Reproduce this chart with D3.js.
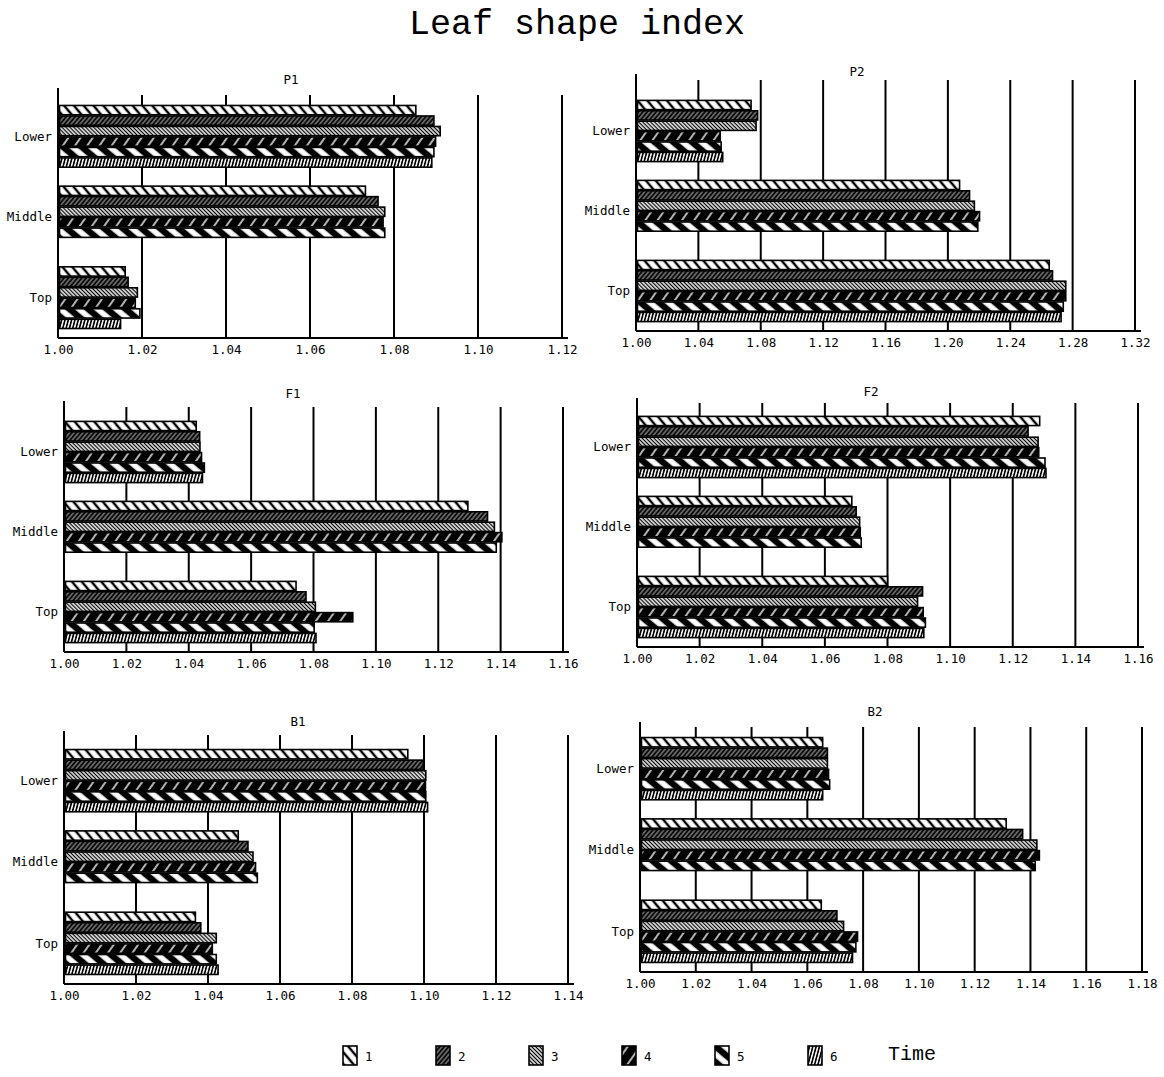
<!DOCTYPE html>
<html>
<head>
<meta charset="utf-8">
<script src="https://cdn.jsdelivr.net/npm/d3@7"></script>
<style>
  html, body { margin: 0; padding: 0; background: #fff; }
  svg { display: block; }
</style>
</head>
<body>
<svg id="chart" width="1164" height="1077"></svg>
<script>
// ---- data -------------------------------------------------------------
const times = ["1", "2", "3", "4", "5", "6"];
const positions = ["Lower", "Middle", "Top"];
const panelNames = ["P1", "P2", "F1", "F2", "B1", "B2"];

// leaf shape index per position (rows) and time (columns); null = not measured
const p1Values = [
  [1.0852, 1.0895, 1.0910, 1.0899, 1.0895, 1.0890],
  [1.0732, 1.0762, 1.0778, 1.0774, 1.0778, null],
  [1.0160, 1.0167, 1.0189, 1.0184, 1.0195, 1.0149]
];
const p2Values = [
  [1.0738, 1.0780, 1.0770, 1.0540, 1.0546, 1.0556],
  [1.2075, 1.2139, 1.2170, 1.2203, 1.2192, null],
  [1.2650, 1.2671, 1.2756, 1.2756, 1.2740, 1.2726]
];
const f1Values = [
  [1.0424, 1.0435, 1.0436, 1.0441, 1.0450, 1.0444],
  [1.1295, 1.1358, 1.1380, 1.1404, 1.1386, null],
  [1.0744, 1.0776, 1.0806, 1.0926, 1.0802, 1.0808]
];
const f2Values = [
  [1.1286, 1.1249, 1.1281, 1.1283, 1.1303, 1.1306],
  [1.0686, 1.0700, 1.0711, 1.0713, 1.0716, null],
  [1.0800, 1.0912, 1.0896, 1.0914, 1.0921, 1.0916]
];
const b1Values = [
  [1.0955, 1.0998, 1.1005, 1.1004, 1.1005, 1.1010],
  [1.0484, 1.0511, 1.0525, 1.0532, 1.0537, null],
  [1.0365, 1.0380, 1.0423, 1.0412, 1.0423, 1.0428]
];
const b2Values = [
  [1.0655, 1.0672, 1.0672, 1.0676, 1.0680, 1.0655],
  [1.1313, 1.1372, 1.1423, 1.1432, 1.1417, null],
  [1.0650, 1.0706, 1.0730, 1.0780, 1.0774, 1.0762]
];

// x-axis tick labels per panel
const p1Ticks = ["1.00", "1.02", "1.04", "1.06", "1.08", "1.10", "1.12"];
const p2Ticks = ["1.00", "1.04", "1.08", "1.12", "1.16", "1.20", "1.24", "1.28", "1.32"];
const f1Ticks = ["1.00", "1.02", "1.04", "1.06", "1.08", "1.10", "1.12", "1.14", "1.16"];
const f2Ticks = ["1.00", "1.02", "1.04", "1.06", "1.08", "1.10", "1.12", "1.14", "1.16"];
const b1Ticks = ["1.00", "1.02", "1.04", "1.06", "1.08", "1.10", "1.12", "1.14"];
const b2Ticks = ["1.00", "1.02", "1.04", "1.06", "1.08", "1.10", "1.12", "1.14", "1.16", "1.18"];

const chartTitle = "Leaf shape index";
const legendTitle = "Time";

// ---- layout -----------------------------------------------------------
const panelData = {
  P1: { values: p1Values, ticks: p1Ticks },
  P2: { values: p2Values, ticks: p2Ticks },
  F1: { values: f1Values, ticks: f1Ticks },
  F2: { values: f2Values, ticks: f2Ticks },
  B1: { values: b1Values, ticks: b1Ticks },
  B2: { values: b2Values, ticks: b2Ticks }
};
const frames = {
  P1: { x0: 58,  x1: 562,  axisTop: 88,  gridTop: 95,  bandTop: 96,  axisY: 338, tx: 291, ty: 84 },
  P2: { x0: 636, x1: 1135, axisTop: 74,  gridTop: 80,  bandTop: 91,  axisY: 331, tx: 857, ty: 76 },
  F1: { x0: 64,  x1: 563,  axisTop: 401, gridTop: 407, bandTop: 412, axisY: 652, tx: 293, ty: 398 },
  F2: { x0: 637, x1: 1138, axisTop: 398, gridTop: 403, bandTop: 407, axisY: 647, tx: 871, ty: 396 },
  B1: { x0: 64,  x1: 568,  axisTop: 731, gridTop: 735, bandTop: 740, axisY: 984, tx: 298, ty: 726 },
  B2: { x0: 640, x1: 1142, axisTop: 722, gridTop: 727, bandTop: 728, axisY: 972, tx: 875, ty: 716 }
};

const svg = d3.select("#chart");
const defs = svg.append("defs");
const labelFont = "'DejaVu Sans Mono', 'Liberation Mono', monospace";
const typeFont = "'Courier New', 'Liberation Mono', monospace";

// ---- hatch fills, one per time ----------------------------------------
const hatch = [
  { bg: "#fff", ink: "#000", w: 2.4, gap: 7.5, angle: -40 },
  { bg: "#0a0a0a", ink: "#fff", w: 0.7, gap: 3.4, angle: 40 },
  { bg: "#fff", ink: "#000", w: 1.3, gap: 2.8, angle: -45 },
  { bg: "#000", ink: "#fff", w: 1.4, gap: 10,  angle: 35 },
  { bg: "#000", ink: "#fff", w: 5.5, gap: 12,  angle: -50 },
  { bg: "#fff", ink: "#000", w: 1.7, gap: 3.2, angle: 15 }
];
hatch.forEach((h, i) => {
  const p = defs.append("pattern")
    .attr("id", "hatch" + i)
    .attr("patternUnits", "userSpaceOnUse")
    .attr("width", h.gap).attr("height", 20)
    .attr("patternTransform", `rotate(${h.angle})`);
  p.append("rect").attr("width", h.gap).attr("height", 20).attr("fill", h.bg);
  p.append("line")
    .attr("x1", h.gap / 2).attr("y1", 0)
    .attr("x2", h.gap / 2).attr("y2", 20)
    .attr("stroke", h.ink).attr("stroke-width", h.w);
});

// ---- main title -------------------------------------------------------
svg.append("text")
  .attr("x", 577).attr("y", 34)
  .attr("text-anchor", "middle")
  .attr("font-family", typeFont)
  .attr("font-size", 35)
  .text(chartTitle);

// ---- panels -----------------------------------------------------------
panelNames.forEach(name => {
  const f = frames[name];
  const d = panelData[name];
  const tickVals = d.ticks.map(Number);
  const x = d3.scaleLinear()
    .domain([tickVals[0], tickVals[tickVals.length - 1]])
    .range([f.x0, f.x1]);
  const y = d3.scaleBand()
    .domain(positions)
    .range([f.bandTop, f.axisY])
    .paddingInner(0.22)
    .paddingOuter(0.11);
  const ySub = d3.scaleBand()
    .domain(times)
    .range([0, y.bandwidth()]);

  const g = svg.append("g");

  // vertical grid lines at every tick after the origin
  g.selectAll("line.grid")
    .data(tickVals.slice(1))
    .join("line")
    .attr("class", "grid")
    .attr("x1", v => x(v)).attr("x2", v => x(v))
    .attr("y1", f.gridTop).attr("y2", f.axisY)
    .attr("stroke", "#000").attr("stroke-width", 2);

  // bars
  const rows = positions.flatMap((pos, r) =>
    times.map((t, c) => ({ pos, t, c, v: d.values[r][c] })))
    .filter(o => o.v != null);
  g.selectAll("rect.bar")
    .data(rows)
    .join("rect")
    .attr("class", "bar")
    .attr("x", x(tickVals[0]) + 1.5)
    .attr("y", o => y(o.pos) + ySub(o.t) + 0.6)
    .attr("width", o => x(o.v) - x(tickVals[0]) - 1.5)
    .attr("height", ySub.bandwidth() - 1.2)
    .attr("fill", o => `url(#hatch${o.c})`)
    .attr("stroke", "#000")
    .attr("stroke-width", 1.6);

  // left axis line and bottom axis
  g.append("line")
    .attr("x1", f.x0).attr("x2", f.x0)
    .attr("y1", f.axisTop).attr("y2", f.axisY)
    .attr("stroke", "#000").attr("stroke-width", 2);
  const xAxis = d3.axisBottom(x)
    .tickValues(tickVals)
    .tickFormat((v, i) => d.ticks[i])
    .tickSize(0)
    .tickPadding(7);
  const ax = g.append("g")
    .attr("transform", `translate(0,${f.axisY})`)
    .call(xAxis);
  ax.select(".domain").attr("stroke", "#000").attr("stroke-width", 2)
    .attr("d", `M${f.x0},0H${f.x1 + 6}`);
  ax.selectAll("text")
    .attr("font-family", labelFont)
    .attr("font-size", 12.5)
    .attr("fill", "#000");

  // position labels
  g.selectAll("text.cat")
    .data(positions)
    .join("text")
    .attr("class", "cat")
    .attr("x", f.x0 - 6)
    .attr("y", p => y(p) + y.bandwidth() / 2)
    .attr("dy", "0.35em")
    .attr("text-anchor", "end")
    .attr("font-family", labelFont)
    .attr("font-size", 12.5)
    .text(p => p);

  // panel title
  g.append("text")
    .attr("x", f.tx).attr("y", f.ty)
    .attr("text-anchor", "middle")
    .attr("font-family", labelFont)
    .attr("font-size", 12.5)
    .text(name);
});

// ---- legend -----------------------------------------------------------
const legendX = d3.scalePoint().domain(times).range([343, 808]);
const lg = svg.append("g");
const items = lg.selectAll("g.item")
  .data(times)
  .join("g")
  .attr("class", "item")
  .attr("transform", t => `translate(${legendX(t)},1046)`);
items.append("rect")
  .attr("width", 14).attr("height", 19)
  .attr("fill", (t, i) => `url(#hatch${i})`)
  .attr("stroke", "#000").attr("stroke-width", 1.6);
items.append("text")
  .attr("x", 22).attr("y", 15)
  .attr("font-family", labelFont)
  .attr("font-size", 12.5)
  .text(t => t);
lg.append("text")
  .attr("x", 888).attr("y", 1060)
  .attr("font-family", typeFont)
  .attr("font-size", 20)
  .text(legendTitle);
</script>
</body>
</html>
